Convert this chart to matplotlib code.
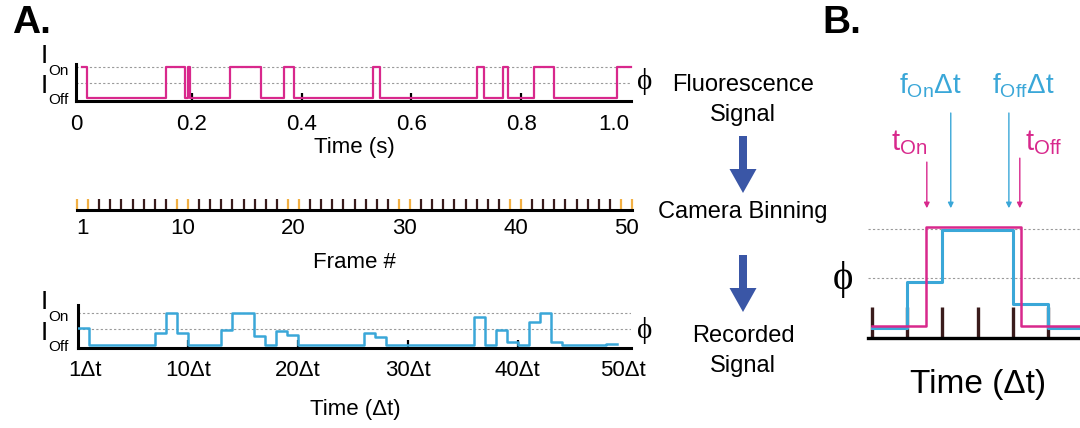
import matplotlib
matplotlib.use('Agg')
import matplotlib.pyplot as plt
import numpy as np
from matplotlib.patches import FancyArrow

plt.rcParams['font.family'] = ['Liberation Sans', 'DejaVu Sans']
plt.rcParams['mathtext.fontset'] = 'custom'
plt.rcParams['mathtext.rm'] = 'Liberation Sans'
plt.rcParams['mathtext.it'] = 'Liberation Sans'

# --- data ---
# fluorescence signal: on intervals in seconds
on_start = [0.0, 0.153, 0.193, 0.270, 0.368, 0.530, 0.719, 0.766, 0.823, 0.975]
on_end = [0.009, 0.187, 0.197, 0.326, 0.386, 0.542, 0.733, 0.776, 0.860, 1.0]
time_pos = [-0.011, 0.2, 0.4, 0.6, 0.8, 0.968]
time_labels = ['0', '0.2', '0.4', '0.6', '0.8', '1.0']

# camera frames
n_frames = 50
frame_hi = [1, 10, 20, 30, 40, 50]

# recorded (binned) signal, one value per frame
recorded = [0.53, 0, 0, 0, 0, 0, 0,
            0.37, 1.0, 0.37,
            0, 0, 0,
            0.47, 1.0, 1.0, 0.27, 0, 0.44, 0.31,
            0, 0, 0, 0, 0, 0,
            0.38, 0.26,
            0, 0, 0, 0, 0, 0, 0, 0,
            0.88, 0, 0.47, 0.10, 0, 0.73, 1.0, 0.10,
            0, 0, 0, 0,
            0.03]
rec_pos = [0.6, 10, 20, 30, 40, 49.6]
rec_labels = ['1Δt', '10Δt', '20Δt', '30Δt', '40Δt', '50Δt']

# panel B close-up
b_pink_t = [0, 1.53, 4.23, 6.3]
b_pink_v = [0.01, 1.02, 0.01, 0.01]
b_blue = [-0.01, 0.46, 0.99, 0.99, 0.23, -0.01, -0.01]
t_on_x, t_off_x = 1.56, 4.20
f_on_x, f_off_x = 2.24, 3.89

phi = 0.5
PINK = '#D8288C'
BLUE = '#3AA7D8'
DARK = '#3A1C1C'
ORANGE = '#F2B044'
ARROW = '#3A56A6'
GRID = '#9A9A9A'
PHI_FONT = ['Liberation Serif', 'DejaVu Serif']

W, H = 1080, 428
fig = plt.figure(figsize=(W / 100, H / 100), dpi=100)


def add_ax(x0, y0, x1, y1):
    # pixel box (top-left origin) -> figure axes
    return fig.add_axes([x0 / W, 1 - y1 / H, (x1 - x0) / W, (y1 - y0) / H])


def signal_axes(ax, xmax, ylim):
    ax.set_xlim(0, xmax)
    ax.set_ylim(*ylim)
    for s in ['top', 'right']:
        ax.spines[s].set_visible(False)
    for s in ['left', 'bottom']:
        ax.spines[s].set_linewidth(2.2)
    ax.set_yticks([])
    ax.axhline(1, color=GRID, lw=0.8, ls=(0, (2, 2)), zorder=1)
    ax.axhline(phi, color=GRID, lw=0.8, ls=(0, (2, 2)), zorder=1)
    ax.patch.set_visible(False)


# --- A: fluorescence signal ---
ax1 = add_ax(76, 64, 631, 101)
signal_axes(ax1, 1.0, (-0.1, 1.1))
tt = [0.0]
vv = [1.0]
for s, e in zip(on_start, on_end):
    if s > 0:
        tt += [s, s]
        vv += [0.0, 1.0]
    tt += [e, e]
    vv += [1.0, 0.0]
tt = tt[:-1]
vv = vv[:-1]
ax1.plot(tt, vv, color=PINK, lw=1.6, zorder=3, clip_on=False)
ax1.set_xticks(time_pos, time_labels, fontsize=16)
ax1.tick_params(axis='x', direction='in', length=6, width=1.6, pad=9)
ax1.xaxis.get_major_ticks()[0].tick1line.set_visible(False)
ax1.xaxis.get_major_ticks()[-1].tick1line.set_visible(False)

# --- A: camera binning ---
ax2 = add_ax(77, 195, 632, 215)
ax2.set_xlim(0, n_frames)
ax2.set_ylim(-5 / 11, 15 / 11)
ax2.axis('off')
edges = np.arange(n_frames + 1)
hi_edges = set()
for f in frame_hi:
    hi_edges.update([f - 1, f])
cols = [ORANGE if e in hi_edges else DARK for e in edges]
ax2.vlines(edges, 0, 1, colors=cols, lw=1.6, clip_on=False)
ax2.axhline(0, color='black', lw=2.2, clip_on=False)
for f in frame_hi:
    ax2.text(f - 0.5, -1.65, str(f), ha='center', va='center', fontsize=16)

# --- A: recorded signal ---
ax3 = add_ax(78, 305, 631, 348)
signal_axes(ax3, 50.3, (-0.1, 1.25))
rec = np.array(recorded, dtype=float)
fr = np.arange(len(rec) + 1)
ax3.step(fr, np.append(rec, rec[-1]), where='post', color=BLUE, lw=1.8, zorder=3)
ax3.set_xticks(rec_pos, rec_labels, fontsize=16)
ax3.tick_params(axis='x', direction='in', length=6, width=1.6, pad=9)
ax3.xaxis.get_major_ticks()[0].tick1line.set_visible(False)
ax3.xaxis.get_major_ticks()[-1].tick1line.set_visible(False)

# --- B: close-up ---
axb = add_ax(868, 60, 1080, 338)
x_right = (1080 - 872) / 35.2
axb.set_xlim(-0.11, x_right)
axb.set_ylim(-0.112, 2.72)
for s in ['top', 'right', 'left']:
    axb.spines[s].set_visible(False)
axb.spines['bottom'].set_linewidth(2.4)
axb.set_xticks([])
axb.set_yticks([])
axb.patch.set_visible(False)
axb.hlines([1, phi], -0.11, x_right, colors=GRID, lw=0.8, linestyles=(0, (2, 2)))
axb.vlines(np.arange(0, 7), -0.112, 0.2, colors=DARK, lw=2.4)
bt = np.arange(len(b_blue) + 1)
axb.step(bt, np.append(b_blue, b_blue[-1]), where='post', color=BLUE, lw=2.2, zorder=3)
axb.step(b_pink_t, b_pink_v, where='post', color=PINK, lw=1.8, zorder=4)
for x, y0 in [(f_on_x, 2.18), (f_off_x, 2.18)]:
    axb.annotate('', xy=(x, 1.21), xytext=(x, y0),
                 arrowprops=dict(arrowstyle='-|>', color=BLUE, lw=1.0,
                                 mutation_scale=8, shrinkA=0, shrinkB=0))
for x, y0 in [(t_on_x, 1.68), (t_off_x, 1.72)]:
    axb.annotate('', xy=(x, 1.21), xytext=(x, y0),
                 arrowprops=dict(arrowstyle='-|>', color=PINK, lw=1.0,
                                 mutation_scale=8, shrinkA=0, shrinkB=0))

# --- overlay in pixel coordinates for labels and arrows ---
ov = fig.add_axes([0, 0, 1, 1])
ov.set_xlim(0, W)
ov.set_ylim(H, 0)
ov.axis('off')
ov.patch.set_visible(False)


def T(x, y, s, size=16, **kw):
    ov.text(x, y, s, fontsize=size, ha=kw.pop('ha', 'center'),
            va=kw.pop('va', 'center'), **kw)


T(31, 23, 'A.', 28, fontweight='bold')
T(842, 23, 'B.', 28, fontweight='bold')

for on_y, off_y in [(67, 98), (313, 345)]:
    T(44, on_y - 11, 'I', 19)
    T(48, on_y + 4, 'On', 11, ha='left')
    T(44, off_y - 12, 'I', 19)
    T(48, off_y + 2, 'Off', 11, ha='left')

T(645, 81, 'ϕ', 21, family=PHI_FONT)
T(645, 330, 'ϕ', 21, family=PHI_FONT)
T(354, 147, 'Time (s)', 16)
T(354, 262, 'Frame #', 16)
T(355, 410, 'Time (Δt)', 16)

T(743, 85, 'Fluorescence', 17)
T(743, 115, 'Signal', 17)
T(743, 212, 'Camera Binning', 17)
T(743, 336, 'Recorded', 17)
T(743, 366, 'Signal', 17)
for y0 in [136, 255]:
    ov.add_patch(FancyArrow(743, y0, 0, 57, width=8, head_width=27,
                            head_length=24, length_includes_head=True,
                            color=ARROW, lw=0))

T(930, 86, r'f$_{\mathrm{On}}$Δt', 20, color=BLUE)
T(1023, 86, r'f$_{\mathrm{Off}}$Δt', 20, color=BLUE)
T(909, 143, r't$_{\mathrm{On}}$', 21, color=PINK)
T(1044, 143, r't$_{\mathrm{Off}}$', 21, color=PINK)
T(843, 280, 'ϕ', 28, family=PHI_FONT)
T(978, 385, 'Time (Δt)', 24)

fig.savefig('out.png', dpi=100)
